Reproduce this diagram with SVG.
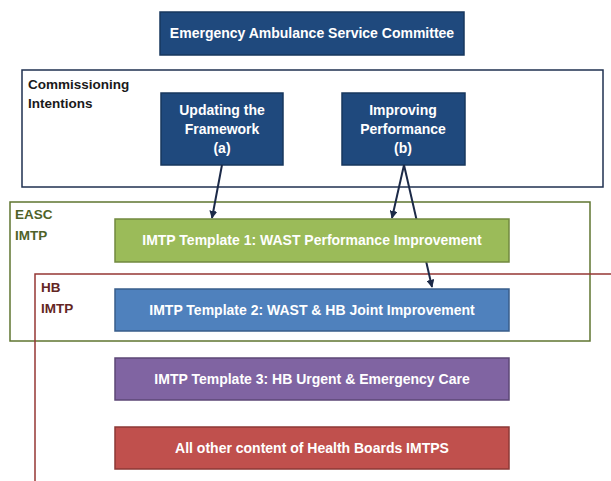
<svg xmlns="http://www.w3.org/2000/svg" width="611" height="481" viewBox="0 0 611 481">
  <style>
    .lbl { font-family: "Liberation Sans", Arial, sans-serif; font-weight: bold; font-size: 14px; fill: #ffffff; text-anchor: middle; }
    .side { font-family: "Liberation Sans", Arial, sans-serif; font-weight: bold; font-size: 13.5px; }
    .navy { fill: #1f497d; stroke: #17375e; stroke-width: 1.5; }
    .conn { stroke: #1c2a48; stroke-width: 2; fill: none; marker-end: url(#arrow); }
  </style>
  <defs>
    <marker id="arrow" viewBox="0 0 10 10" refX="9" refY="5" markerWidth="4" markerHeight="4" orient="auto">
      <path d="M0,0 L10,5 L0,10 z" fill="#1c2a48"/>
    </marker>
  </defs>
  <rect width="611" height="481" fill="#ffffff"/>

  <!-- container frames -->
  <g id="commissioning">
    <rect x="22" y="70" width="581" height="117" fill="#ffffff" stroke="#1f3050" stroke-width="1.5"/>
    <text class="side" x="28" y="89" fill="#1a1a1a">Commissioning</text>
    <text class="side" x="28" y="108" fill="#1a1a1a">Intentions</text>
  </g>
  <g id="easc-imtp">
    <rect x="10" y="202" width="580" height="139" fill="none" stroke="#5f7530" stroke-width="1.5"/>
    <text class="side" x="15" y="219" fill="#4f6228">EASC</text>
    <text class="side" x="15" y="240" fill="#4f6228">IMTP</text>
  </g>
  <g id="hb-imtp">
    <path d="M611,274 H35 V481" fill="none" stroke="#953735" stroke-width="1.5"/>
    <text class="side" x="41" y="292" fill="#632523">HB</text>
    <text class="side" x="41" y="313" fill="#632523">IMTP</text>
  </g>

  <!-- nodes -->
  <g id="committee">
    <rect class="navy" x="160" y="12" width="304" height="43"/>
    <text class="lbl" x="312" y="38">Emergency Ambulance Service Committee</text>
  </g>
  <g id="updating">
    <rect class="navy" x="161" y="93" width="122" height="72"/>
    <text class="lbl" x="222" y="115">Updating the</text>
    <text class="lbl" x="222" y="134">Framework</text>
    <text class="lbl" x="222" y="153">(a)</text>
  </g>
  <g id="improving">
    <rect class="navy" x="342" y="93" width="123" height="72"/>
    <text class="lbl" x="403" y="115">Improving</text>
    <text class="lbl" x="403" y="134">Performance</text>
    <text class="lbl" x="403" y="153">(b)</text>
  </g>

  <!-- connectors -->
  <g id="connectors">
    <line class="conn" x1="222" y1="165" x2="212" y2="218"/>
    <line class="conn" x1="404" y1="165" x2="392" y2="218"/>
    <line class="conn" x1="404" y1="165" x2="432" y2="287"/>
  </g>

  <g id="template1">
    <rect x="115" y="219" width="394" height="43" fill="#9bbb59" stroke="#71893f" stroke-width="1.5"/>
    <text class="lbl" x="312" y="245">IMTP Template 1: WAST Performance Improvement</text>
  </g>
  <g id="template2">
    <rect x="115" y="289" width="394" height="42" fill="#4f81bd" stroke="#385d8a" stroke-width="1.5"/>
    <text class="lbl" x="312" y="315">IMTP Template 2: WAST &amp; HB Joint Improvement</text>
  </g>
  <g id="template3">
    <rect x="115" y="358" width="394" height="42" fill="#8064a2" stroke="#5c4776" stroke-width="1.5"/>
    <text class="lbl" x="312" y="384">IMTP Template 3: HB Urgent &amp; Emergency Care</text>
  </g>
  <g id="other-content">
    <rect x="115" y="427" width="394" height="42" fill="#c0504d" stroke="#8c3836" stroke-width="1.5"/>
    <text class="lbl" x="312" y="453">All other content of Health Boards IMTPS</text>
  </g>
</svg>
